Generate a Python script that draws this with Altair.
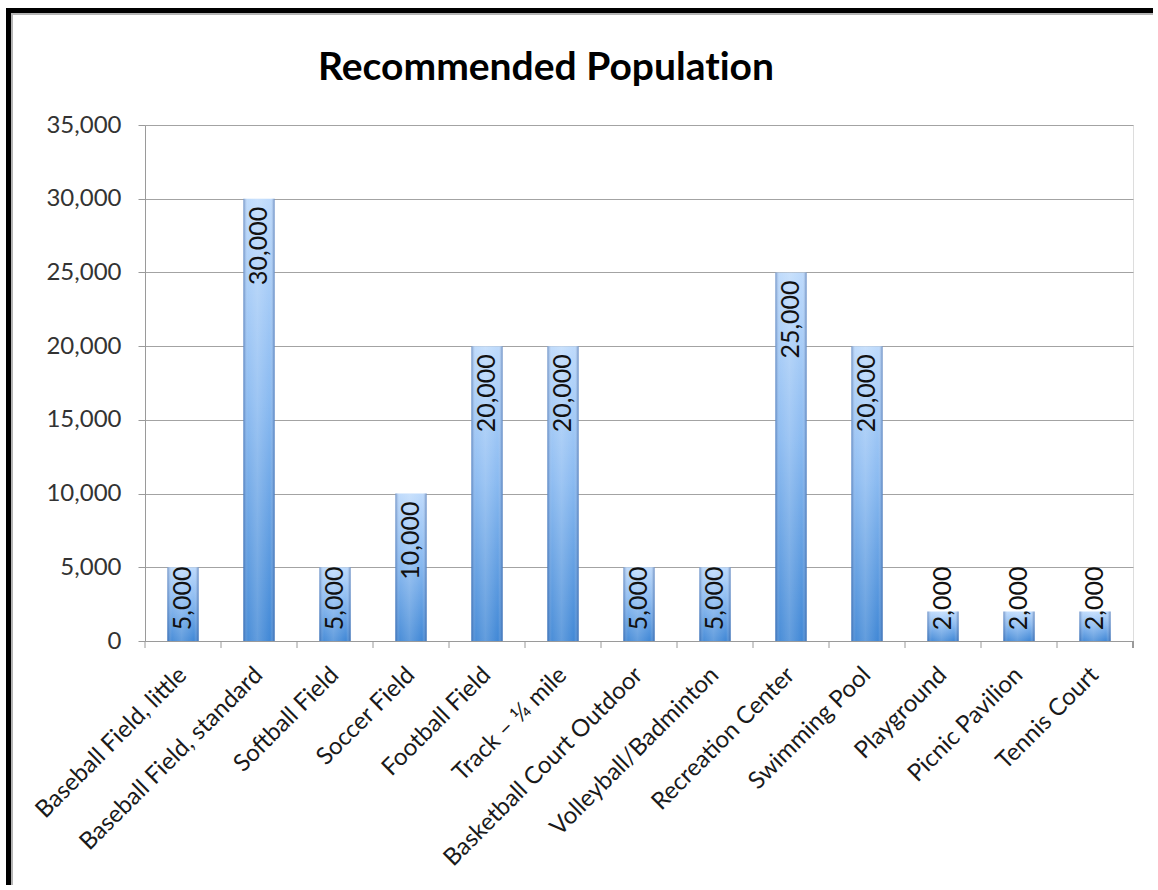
import altair as alt
import pandas as pd

facilities = [
    "Baseball Field, little",
    "Baseball Field, standard",
    "Softball Field",
    "Soccer Field",
    "Football Field",
    "Track – ¼ mile",
    "Basketball Court Outdoor",
    "Volleyball/Badminton",
    "Recreation Center",
    "Swimming Pool",
    "Playground",
    "Picnic Pavilion",
    "Tennis Court",
]
population = [5000, 30000, 5000, 10000, 20000, 20000, 5000, 5000, 25000, 20000, 2000, 2000, 2000]
y_ticks = [0, 5000, 10000, 15000, 20000, 25000, 30000, 35000]
# zero-width non-joiner keeps Lato from fusing "ti" into a ligature
chart_title = ["Recommended Populat\u200cion"]

df = pd.DataFrame({"facility": facilities, "population": population})
title_df = pd.DataFrame({"title": chart_title})

FONT = "Lato"
W, H = 988, 516

x_enc = alt.X(
    "facility:N",
    sort=facilities,
    title=None,
    scale=alt.Scale(paddingInner=0, paddingOuter=0),
    axis=alt.Axis(
        labelAngle=-45,
        labelAlign="right",
        labelBaseline="middle",
        labelFont=FONT,
        labelFontSize=24,
        labelColor="#1a1a1a",
        labelPadding=30,
        ticks=False,
        tickSize=0,
        domainColor="#9a9a9a",
        grid=False,
        labelLimit=400,
        labelOverlap=False,
    ),
)
y_enc = alt.Y(
    "population:Q",
    title=None,
    scale=alt.Scale(domain=[0, 35000], nice=False),
    axis=alt.Axis(
        values=y_ticks,
        format=",d",
        labelFont=FONT,
        labelFontSize=24,
        labelColor="#333333",
        labelPadding=17,
        tickSize=7,
        tickColor="#9a9a9a",
        domainColor="#9a9a9a",
        gridColor="#a3a3a3",
        gridWidth=1,
    ),
)

base = alt.Chart(df)

# cylinder-like shading: vertical light-to-dark fill plus darker side edges
vertical = alt.Gradient(
    gradient="linear", x1=0, x2=0, y1=0, y2=1,
    stops=[
        alt.GradientStop(offset=0, color="#bddafc"),
        alt.GradientStop(offset=0.45, color="#8abaf1"),
        alt.GradientStop(offset=1, color="#4188d6"),
    ],
)
sides = alt.Gradient(
    gradient="linear", x1=0, x2=1, y1=0, y2=0,
    stops=[
        alt.GradientStop(offset=0, color="rgba(30,70,140,0.5)"),
        alt.GradientStop(offset=0.14, color="rgba(255,255,255,0.05)"),
        alt.GradientStop(offset=0.45, color="rgba(255,255,255,0.18)"),
        alt.GradientStop(offset=0.86, color="rgba(255,255,255,0.0)"),
        alt.GradientStop(offset=1, color="rgba(30,70,140,0.55)"),
    ],
)

bars = base.mark_bar(width=alt.RelativeBandSize(0.41), fill=vertical).encode(x=x_enc, y=y_enc)
bars_edge = base.mark_bar(width=alt.RelativeBandSize(0.41), fill=sides).encode(
    x=alt.X("facility:N", sort=facilities), y="population:Q"
)

# value labels read upward from the top of each bar; short bars keep room for the text
labels = base.mark_text(
    angle=270, align="right", baseline="middle", dx=-8,
    font=FONT, fontSize=25, color="#111111",
).transform_calculate(
    label_pos="max(datum.population, 5600)"
).encode(
    x=alt.X("facility:N", sort=facilities),
    y=alt.Y("label_pos:Q"),
    text=alt.Text("population:Q", format=",d"),
)

# category separator ticks below the x axis
cat_ticks = base.mark_rule(color="#9a9a9a").encode(
    x=alt.X("facility:N", sort=facilities, bandPosition=0),
    y=alt.value(H),
    y2=alt.value(H + 7),
)
end_tick = base.mark_rule(color="#9a9a9a").encode(
    x=alt.value(W), y=alt.value(H), y2=alt.value(H + 7)
)

title = alt.Chart(title_df).mark_text(
    font=FONT, fontSize=39, fontWeight="bold", color="#000000",
    align="center", baseline="alphabetic",
).encode(text="title:N", x=alt.value(401), y=alt.value(-45))

# outer frame
frame_left = base.mark_rule(color="#000000", strokeWidth=5).encode(
    x=alt.value(-136.5), y=alt.value(-117), y2=alt.value(800)
)
frame_left_in = base.mark_rule(color="#b5b5b5", strokeWidth=2).encode(
    x=alt.value(-133), y=alt.value(-112), y2=alt.value(800)
)
frame_top = base.mark_rule(color="#000000", strokeWidth=5).encode(
    y=alt.value(-114.5), x=alt.value(-139), x2=alt.value(1040)
)
frame_top_in = base.mark_rule(color="#b5b5b5", strokeWidth=2).encode(
    y=alt.value(-111), x=alt.value(-134), x2=alt.value(1040)
)

chart = alt.layer(
    bars, bars_edge, labels, cat_ticks, end_tick, title,
    frame_left, frame_left_in, frame_top, frame_top_in,
).properties(
    width=W,
    height=H,
    autosize=alt.AutoSizeParams(type="none"),
    padding={"left": 145, "top": 125, "right": 20, "bottom": 244},
).configure_view(stroke=None).configure(background="#ffffff")

chart.save("out.html", embed_options={"renderer": "svg", "actions": False})
